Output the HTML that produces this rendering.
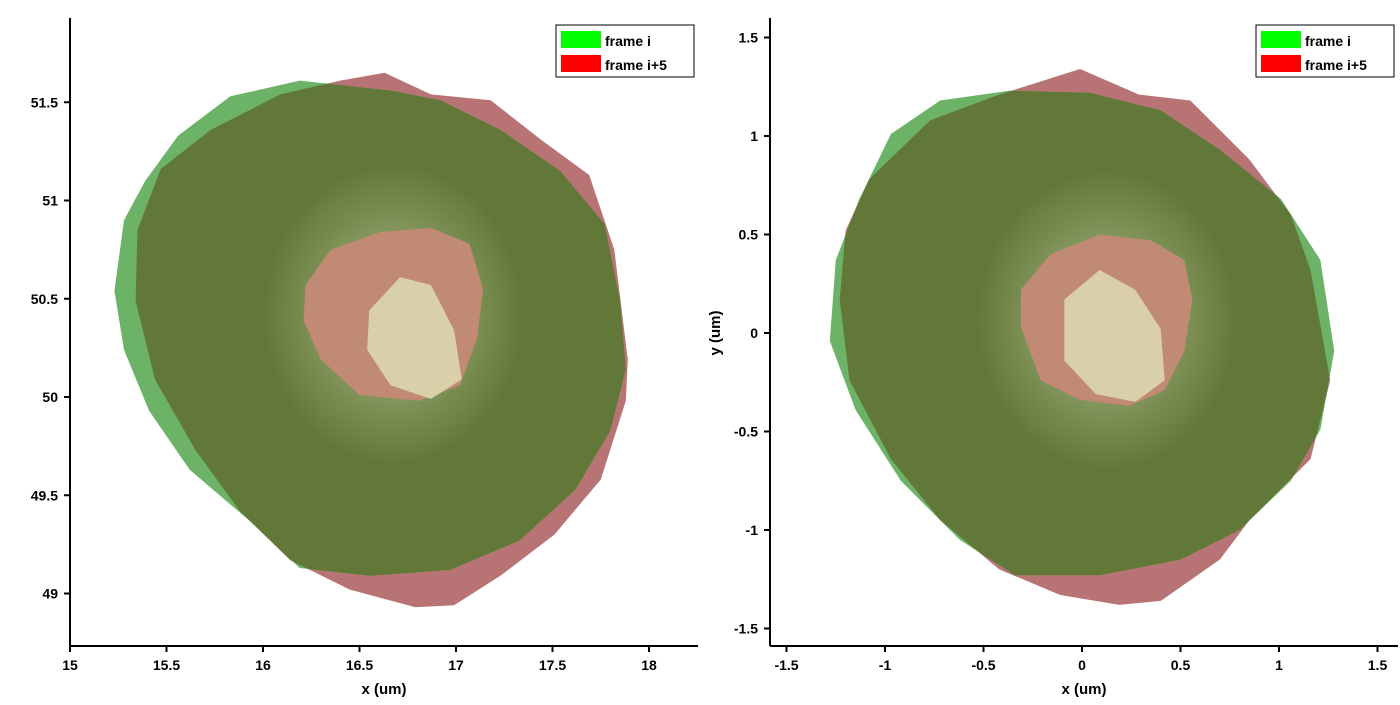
<!DOCTYPE html>
<html><head><meta charset="utf-8"><style>
html,body{margin:0;padding:0;background:#fff;}
svg text{font-family:"Liberation Sans",Arial,sans-serif;font-weight:bold;font-size:14px;fill:#000;}
</style></head><body>
<svg id="chart" width="1400" height="700" xmlns="http://www.w3.org/2000/svg">
<defs>
<radialGradient id="hl" cx="0.5" cy="0.5" r="0.5">
<stop offset="0" stop-color="#e8f0c8" stop-opacity="0.55"/>
<stop offset="1" stop-color="#e8f0c8" stop-opacity="0"/>
</radialGradient>
</defs>
</svg>
<script>
// ---- data (left panel: absolute coords) ----
const leftXTicks=[15,15.5,16,16.5,17,17.5,18];
const leftYTicks=[49,49.5,50,50.5,51,51.5];
const leftGreenX=[15.56,15.83,16.19,16.66,16.92,17.23,17.54,17.77,17.85,17.88,17.80,17.62,17.33,16.97,16.55,16.19,15.93,15.62,15.41,15.28,15.23,15.28,15.39];
const leftGreenY=[51.33,51.53,51.61,51.56,51.51,51.36,51.15,50.88,50.49,50.14,49.83,49.53,49.27,49.12,49.09,49.13,49.37,49.63,49.93,50.24,50.54,50.90,51.10];
const leftRedX=[16.40,16.63,16.87,17.18,17.44,17.69,17.82,17.89,17.88,17.75,17.51,17.23,16.99,16.79,16.45,16.14,15.88,15.65,15.44,15.34,15.35,15.47,15.73,16.09];
const leftRedY=[51.61,51.65,51.54,51.51,51.31,51.13,50.75,50.19,49.98,49.58,49.30,49.09,48.94,48.93,49.02,49.17,49.42,49.73,50.09,50.49,50.85,51.16,51.36,51.54];
const leftHoleX=[16.22,16.35,16.61,16.87,17.07,17.14,17.11,17.02,16.81,16.50,16.30,16.21];
const leftHoleY=[50.57,50.75,50.84,50.86,50.78,50.55,50.30,50.06,49.98,50.01,50.19,50.39];
const leftLightX=[16.55,16.71,16.87,16.99,17.03,16.87,16.66,16.54];
const leftLightY=[50.44,50.61,50.57,50.34,50.09,49.99,50.06,50.24];
// ---- data (right panel: centered coords) ----
const rightXTicks=[-1.5,-1,-0.5,0,0.5,1,1.5];
const rightYTicks=[-1.5,-1,-0.5,0,0.5,1,1.5];
const rightGreenX=[-0.97,-0.72,-0.37,0.04,0.40,0.70,1.01,1.21,1.28,1.21,1.06,0.80,0.50,0.09,-0.34,-0.62,-0.92,-1.15,-1.28,-1.25,-1.13];
const rightGreenY=[1.01,1.18,1.23,1.22,1.13,0.93,0.68,0.37,-0.09,-0.49,-0.75,-1.00,-1.15,-1.23,-1.23,-1.05,-0.75,-0.39,-0.04,0.37,0.68];
const rightRedX=[-0.42,-0.01,0.29,0.55,0.85,1.06,1.16,1.26,1.16,0.85,0.70,0.40,0.19,-0.11,-0.42,-0.72,-0.97,-1.18,-1.23,-1.20,-1.08,-0.77];
const rightRedY=[1.21,1.34,1.21,1.18,0.88,0.60,0.32,-0.24,-0.64,-0.95,-1.15,-1.36,-1.38,-1.33,-1.20,-0.95,-0.64,-0.24,0.17,0.52,0.78,1.08];
const rightHoleX=[-0.31,-0.16,0.09,0.35,0.52,0.56,0.52,0.42,0.24,-0.01,-0.21,-0.31];
const rightHoleY=[0.22,0.40,0.50,0.47,0.37,0.17,-0.09,-0.29,-0.37,-0.34,-0.24,0.03];
const rightLightX=[-0.09,0.09,0.27,0.40,0.42,0.27,0.07,-0.09];
const rightLightY=[0.17,0.32,0.22,0.02,-0.24,-0.35,-0.31,-0.14];
const tickFmt=v=>String(v).replace(/^0\./,'0.').replace(/^-0\./,'-0.');

const NS="http://www.w3.org/2000/svg";
const svg=document.getElementById('chart');
function el(tag,attrs,parent){const e=document.createElementNS(NS,tag);for(const k in attrs)e.setAttribute(k,attrs[k]);(parent||svg).appendChild(e);return e;}

function panel(p){
  const g=el('g',{});
  
  
  const sx=v=>p.x0+(v-p.xv0)*p.xs, sy=v=>p.y0-(v-p.yv0)*p.ys;
  const pts=(X,Y)=>X.map((x,i)=>sx(x).toFixed(1)+','+sy(Y[i]).toFixed(1)).join(' ');
  const cid='clip-'+p.name;
  const cp=el('clipPath',{id:cid},svg.querySelector('defs'));
  el('polygon',{points:pts(p.rx,p.ry)},cp);
  const red=el('polygon',{points:pts(p.rx,p.ry),fill:'#b87474'},g);
  
  const grn=el('polygon',{points:pts(p.gx,p.gy),fill:'#6cb267'},g);
  
  const ov=el('polygon',{points:pts(p.gx,p.gy),fill:'#627838','clip-path':'url(#'+cid+')'},g);
  
  const hcx=sx((Math.min(...p.hx)+Math.max(...p.hx))/2), hcy=sy((Math.min(...p.hy)+Math.max(...p.hy))/2);
  const hl=el('ellipse',{cx:hcx,cy:hcy,rx:130,ry:150,fill:'url(#hl)'},g);
  
  const hole=el('polygon',{points:pts(p.hx,p.hy),fill:'#c08a74'},g);
  
  const lt=el('polygon',{points:pts(p.lx,p.ly),fill:'#d9cfa8'},g);
  
  // axes
  el('line',{x1:p.ax,y1:18,x2:p.ax,y2:646,stroke:'#000','stroke-width':2},g);
  el('line',{x1:p.ax,y1:646,x2:p.ax2,y2:646,stroke:'#000','stroke-width':2},g);
  p.xt.forEach(v=>{const x=sx(v);el('line',{x1:x,y1:646,x2:x,y2:652,stroke:'#000','stroke-width':2},g);
    const t=el('text',{x:x,y:670,'text-anchor':'middle'},g);t.textContent=tickFmt(v);
    });
  p.yt.forEach(v=>{const y=sy(v);el('line',{x1:p.ax-6,y1:y,x2:p.ax,y2:y,stroke:'#000','stroke-width':2},g);
    const t=el('text',{x:p.ax-12,y:y+5,'text-anchor':'end'},g);t.textContent=tickFmt(v);
    });
  const xl=el('text',{x:(p.ax+p.ax2)/2,y:694,'text-anchor':'middle',style:'font-size:15px'},g);xl.textContent='x (um)';
  
  if(p.ylab){const yl=el('text',{x:0,y:0,'text-anchor':'middle',style:'font-size:15px',transform:'translate(720,333) rotate(-90)'},g);yl.textContent='y (um)';
    }
  // legend
  const lg=el('g',{},g);
  
  el('rect',{x:p.lgx,y:25,width:138,height:52,fill:'#fff',stroke:'#000','stroke-width':1},lg);
  el('rect',{x:p.lgx+5,y:31,width:40,height:17,fill:'#00ff00'},lg);
  el('rect',{x:p.lgx+5,y:55,width:40,height:17,fill:'#ff0000'},lg);
  const t1=el('text',{x:p.lgx+49,y:46},lg);t1.textContent='frame i';
  
  const t2=el('text',{x:p.lgx+49,y:70},lg);t2.textContent='frame i+5';
  
}
panel({name:'left-panel',x0:70,xv0:15,xs:193,y0:397,yv0:50,ys:196.5,ax:70,ax2:698,xt:leftXTicks,yt:leftYTicks,
  gx:leftGreenX,gy:leftGreenY,rx:leftRedX,ry:leftRedY,hx:leftHoleX,hy:leftHoleY,lx:leftLightX,ly:leftLightY,lgx:556,ylab:false});
panel({name:'right-panel',x0:1082,xv0:0,xs:197,y0:333,yv0:0,ys:197,ax:770,ax2:1398,xt:rightXTicks,yt:rightYTicks,
  gx:rightGreenX,gy:rightGreenY,rx:rightRedX,ry:rightRedY,hx:rightHoleX,hy:rightHoleY,lx:rightLightX,ly:rightLightY,lgx:1256,ylab:true});
</script>
</body></html>
